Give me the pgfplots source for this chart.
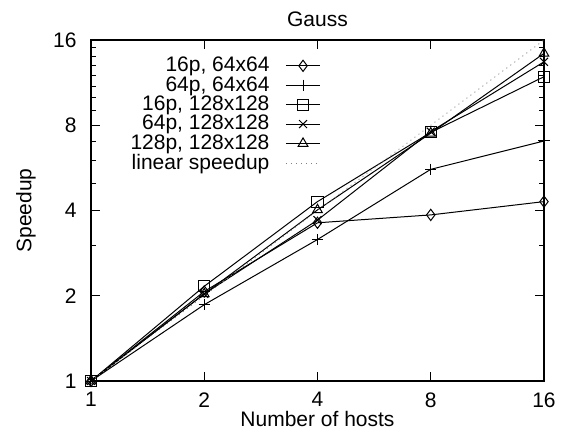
\documentclass[border=0pt]{standalone}
\usepackage{fontspec}
\setmainfont{Liberation Sans}
\usepackage{pgfplots}
\pgfplotsset{compat=1.18}
\begin{document}
\fontsize{10.5}{12}\selectfont
\begin{tikzpicture}
\begin{axis}[
    scale only axis,
    width=226.5pt, height=170.5pt,
    xmode=log, ymode=log,
    log basis x=2, log basis y=2,
    xmin=1, xmax=16, ymin=1, ymax=16,
    xtick={1,2,4,8,16}, xticklabels={1,2,4,8,16},
    ytick={1,2,4,8,16}, yticklabels={1,2,4,8,16},
    extra y ticks={3,5,6,7,9,10,11,12,13,14,15},
    extra y tick labels={},
    extra y tick style={major tick length=2.5pt, grid=none},
    tick align=inside,
    major tick length=4.5pt,
    tick style={black, line width=0.5pt},
    axis line style={line width=0.6pt},
    /pgf/number format/assume math mode=true,
    title={Gauss},
    title style={yshift=-3pt},
    xlabel={Number of hosts},
    ylabel={Speedup},
    xticklabel style={yshift=-2pt},
    yticklabel style={xshift=-3.5pt},
    xlabel style={yshift=5pt},
    ylabel style={yshift=1.5pt},
    legend style={at={(0.521,0.975)}, anchor=north east, draw=none, fill=none,
        font=\fontsize{10.5}{11}\selectfont, row sep=-3.2pt,
        /tikz/every odd column/.append style={column sep=6pt}},
    legend cell align=right,
    legend plot pos=right,
    every axis plot/.append style={black, line width=0.5pt, mark size=2.8pt},
]
\addplot[mark=diamond] coordinates {(1,1) (2,2.07) (4,3.62) (8,3.86) (16,4.30)};
\addlegendentry{16p, 64x64}
\addplot[mark=+] coordinates {(1,1) (2,1.86) (4,3.16) (8,5.59) (16,7.04)};
\addlegendentry{64p, 64x64}
\addplot[mark=square] coordinates {(1,1) (2,2.16) (4,4.30) (8,7.55) (16,11.87)};
\addlegendentry{16p, 128x128}
\addplot[mark=x] coordinates {(1,1) (2,2.03) (4,3.70) (8,7.6) (16,13.4)};
\addlegendentry{64p, 128x128}
\addplot[mark=triangle] coordinates {(1,1) (2,2.03) (4,4.02) (8,7.5) (16,14.35)};
\addlegendentry{128p, 128x128}
\addplot[gray, dotted, line width=0.4pt] coordinates {(1,1) (16,16)};
\addlegendentry{linear speedup}
\end{axis}
\pgfresetboundingbox
\path ([shift={(-45.5pt,-28.5pt)}]current axis.south west) rectangle ([shift={(10pt,20pt)}]current axis.north east);
\end{tikzpicture}
\end{document}
